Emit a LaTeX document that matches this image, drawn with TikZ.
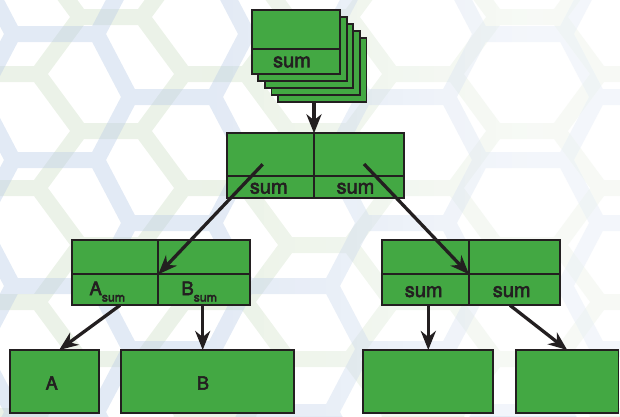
\documentclass[tikz,border=0pt]{standalone}
\usepackage{fontspec}
\setmainfont{TeX Gyre Heros}
\newfontfamily\lblfont{TeX Gyre Heros}[FakeBold=3]
\usetikzlibrary{arrows.meta,calc}
\definecolor{boxgreen}{RGB}{67,168,67}
\definecolor{ink}{RGB}{35,31,32}
\definecolor{hexblue}{RGB}{187,205,231}
\definecolor{hexgreen}{RGB}{211,227,203}
\begin{document}
\begin{tikzpicture}[x=1pt,y=-1pt,
  box/.style={draw=ink,fill=boxgreen,line width=1.8pt,inner sep=0pt,outer sep=0pt,rectangle},
  divider/.style={draw=ink,line width=1.8pt},
  conn/.style={draw=ink,line width=3.3pt,-{Stealth[length=19pt,width=15pt,inset=6pt]}},
  lbl/.style={font=\lblfont\fontsize{20}{22}\selectfont,text=ink,inner sep=0pt},
  big/.style={font=\lblfont\fontsize{18.5}{20}\selectfont,text=ink,inner sep=0pt},
]
\useasboundingbox (0,0) rectangle (620,416);
% ---------- background honeycomb ----------
\begin{scope}
\clip (0,0) rectangle (620,416);
\draw[hexgreen,line width=16pt,opacity=0.45]
  \foreach \i [evaluate=\i as \xo using {80+104*\i}, evaluate=\i as \yo using {17+57*mod(\i+10,2)}] in {-2,...,7} {
    \foreach \j [evaluate=\j as \yy using {\yo+114*\j}] in {-2,...,4} {
      (\xo,\yy) -- ++(62,0) -- ++(42,57) -- ++(-42,57) -- ++(-62,0) -- ++(-42,-57) -- cycle
    }
  };
\draw[hexblue,line width=16pt,opacity=0.42]
  \foreach \i [evaluate=\i as \xo using {13+117*\i}, evaluate=\i as \yo using {34+63*mod(\i+10,2)}] in {-2,...,6} {
    \foreach \j [evaluate=\j as \yy using {\yo+126*\j}] in {-2,...,3} {
      (\xo,\yy) -- ++(84,0) -- ++(33,63) -- ++(-33,63) -- ++(-84,0) -- ++(-33,-63) -- cycle
    }
  };
\foreach \k in {0,...,39} {
  \pgfmathsetmacro\op{0.62*min(1,max(0,(\k*15.5-200)/330))}
  \fill[white,opacity=\op] (\k*15.5,0) rectangle ++(15.5,416);
}
\end{scope}
% ---------- stack ----------
\foreach \k in {4,3,2,1} {
  \node[box,minimum width=88.3pt,minimum height=64pt] (stack\k) at (295.85+6.6*\k,42+6.9*\k) {};
}
\node[box,minimum width=88.3pt,minimum height=64pt] (stack0) at (295.85,42) {};
\coordinate (sy) at (0,48.7);
\draw[divider] (stack0.west |- sy) -- (stack0.east |- sy);
\node[lbl] (s0lbl) at (292,62) {sum};
% ---------- middle ----------
\node[box,minimum width=177pt,minimum height=64.7pt] (mid) at (315.8,165.65) {};
\coordinate (mx) at (314,0);
\coordinate (my) at (0,175.7);
\draw[divider] (mx |- mid.north) -- (mx |- mid.south);
\draw[divider] (mid.west |- my) -- (mid.east |- my);
\node[lbl] (m1lbl) at (268.8,188.3) {sum};
\node[lbl] (m2lbl) at (355.5,188.3) {sum};
% ---------- level 2 ----------
\node[box,minimum width=178.3pt,minimum height=65.3pt] (L) at (160.85,272.65) {};
\node[box,minimum width=178.3pt,minimum height=65.3pt] (R) at (470.85,272.65) {};
\coordinate (lc) at (158.3,274.3);
\coordinate (rc) at (469,274.3);
\draw[divider] (lc |- L.north) -- (lc |- L.south);
\draw[divider] (L.west |- lc) -- (L.east |- lc);
\draw[divider] (rc |- R.north) -- (rc |- R.south);
\draw[divider] (R.west |- rc) -- (R.east |- rc);
\node[big,anchor=base west] (asum) at (89.3,295) {A\raisebox{-6.5pt}{\fontsize{12.3}{14}\selectfont sum}};
\node[big,anchor=base west] (bsum) at (181.2,295) {B\raisebox{-6.5pt}{\fontsize{12.3}{14}\selectfont sum}};
\node[lbl] (r1lbl) at (423.7,291.7) {sum};
\node[lbl] (r2lbl) at (511.7,291.7) {sum};
% ---------- bottom ----------
\node[box,minimum width=89.3pt,minimum height=63pt] (Abox) at (54.65,381.5) {};
\node[box,minimum width=173pt,minimum height=63pt] (Bbox) at (207.5,381.5) {};
\node[box,minimum width=130pt,minimum height=63pt] (Cbox) at (427.7,381.5) {};
\node[box,minimum width=102.5pt,minimum height=63pt] (Dbox) at (567.25,381.5) {};
\node[big,font=\lblfont\fontsize{18}{20}\selectfont] (alab) at (51.7,383) {A};
\node[big,font=\lblfont\fontsize{18}{20}\selectfont] (blab) at (203,383) {B};
% ---------- connectors ----------
\draw[conn] (mx |- stack4.south) -- (mx |- mid.north);
\coordinate (m1) at (262.7,164.3);
\coordinate (m2) at (364,164);
\draw[conn] (m1) -- (lc);
\draw[conn] (m2) -- (rc);
\coordinate (a1) at (120,305.3);
\coordinate (b1) at (202.7,305.3);
\coordinate (c1) at (428.3,305.3);
\coordinate (d1) at (510,305.3);
\draw[conn] (a1) -- ($(Abox.north west)!0.55!(Abox.north east)$);
\draw[conn] (b1) -- (b1 |- Bbox.north);
\draw[conn] (c1) -- (c1 |- Cbox.north);
\draw[conn] (d1) -- (Dbox.north);
\end{tikzpicture}
\end{document}
